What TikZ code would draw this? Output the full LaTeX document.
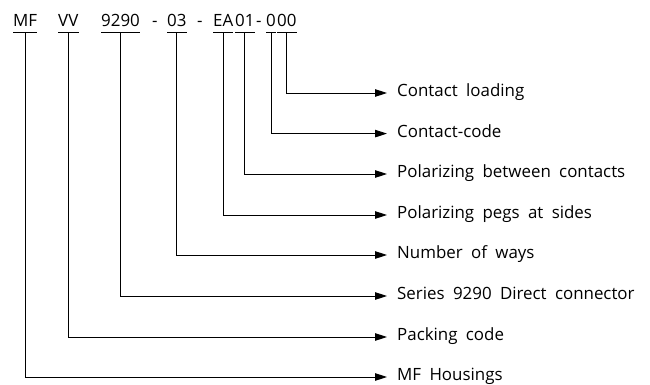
\documentclass[tikz,border=0pt]{standalone}
\usepackage{fontspec}
\setmainfont{Open Sans}[WordSpace=1.9]
\usetikzlibrary{arrows.meta}
\begin{document}
\begin{tikzpicture}[x=1pt,y=-1pt,
  font=\fontsize{16.9}{20}\selectfont,
  code/.style={inner sep=0pt, anchor=base west},
  lbl/.style={anchor=west, inner xsep=10pt, inner ysep=0pt, text height=12pt, text depth=5pt},
  conn/.style={line width=0.9pt, -{Triangle[length=12pt,width=7.5pt]}},
  uline/.style={line width=0.9pt}]
\useasboundingbox (0,0) rectangle (650,385);
% code parts
\node[code] (mf) at (13,26.5) {MF};
\node[code] (vv) at (58,26.5) {VV};
\node[code] (s9290) at (101,26.5) {9290};
\node[code] (d1) at (152,26.5) {-};
\node[code] (w03) at (167,26.5) {03};
\node[code] (d2) at (197,26.5) {-};
\node[code] (ea) at (213,26.5) {EA};
\node[code] (n01) at (235,26.5) {01};
\node[code] (d3) at (256,26.5) {-};
\node[code] (z1) at (266,26.5) {0};
\node[code] (z23) at (277,26.5) {00};
% labels
\node[lbl] (l1) at (387,93) {Contact loading};
\node[lbl] (l2) at (387,133.6) {Contact-code};
\node[lbl] (l3) at (387,174) {Polarizing between contacts};
\node[lbl] (l4) at (387,215) {Polarizing pegs at sides};
\node[lbl] (l5) at (387,255) {Number of ways};
\node[lbl] (l6) at (387,296) {Series 9290 Direct connector};
\node[lbl] (l7) at (387,337) {Packing code};
\node[lbl] (l8) at (387,377) {MF Housings};
% underlines and connectors
\foreach \n/\l in {z23/l1, z1/l2, n01/l3, ea/l4, w03/l5, s9290/l6, vv/l7, mf/l8}{
  \draw[uline] ([yshift=-6pt]\n.base west) -- ([yshift=-6pt]\n.base east);
  \draw[conn] ([yshift=-6pt]\n.base) |- (\l.west);
}
\end{tikzpicture}
\end{document}
